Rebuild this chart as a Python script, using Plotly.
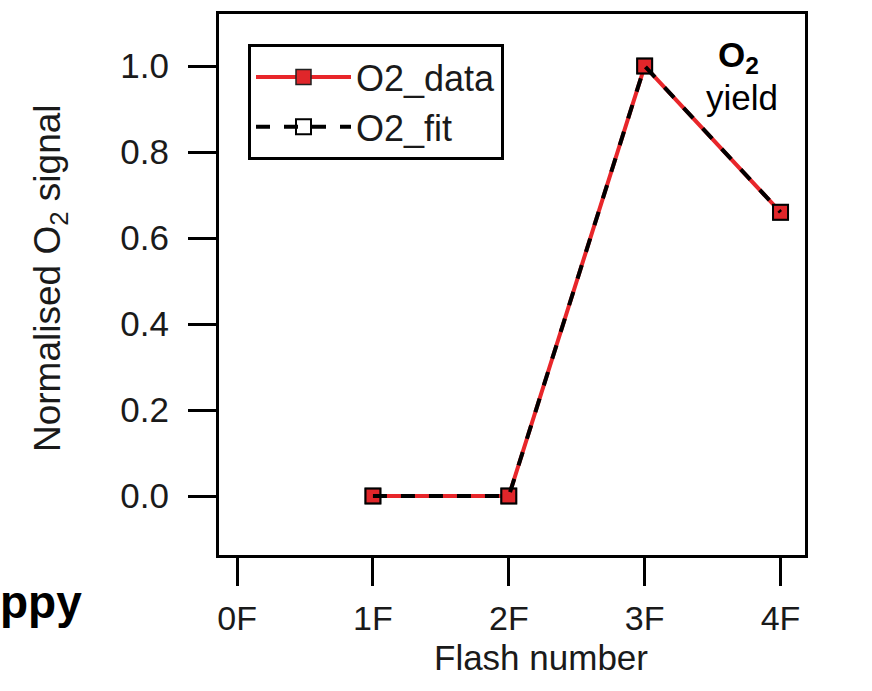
import plotly.graph_objects as go

flash_labels = ["0F", "1F", "2F", "3F", "4F"]
flash_pos = [0, 1, 2, 3, 4]
data_x = [1, 2, 3, 4]
data_y = [0.0, 0.0, 1.0, 0.66]
fit_x = [1, 2, 3, 4]
fit_y = [0.0, 0.0, 1.0, 0.66]
y_ticks = [0.0, 0.2, 0.4, 0.6, 0.8, 1.0]

FONT = "Liberation Sans, Arial, sans-serif"
FS = 35

fig = go.Figure()
fig.add_trace(go.Scatter(
    x=data_x, y=data_y, name="O2_data", mode="lines+markers",
    line=dict(color="#e8262a", width=4),
    marker=dict(symbol="square", size=15, color="#e0262a",
                line=dict(color="#222", width=1.5)),
))
fig.add_trace(go.Scatter(
    x=fit_x, y=fit_y, name="O2_fit", mode="lines+markers",
    line=dict(color="black", width=4, dash="14px,14px"),
    marker=dict(symbol="square-open", size=15, color="black",
                line=dict(width=2)),
))

L, R, T, B = 219, 805, 14, 555
W, H = R - L, B - T

def px_x(x):
    return (x - L) / W

def px_y(y):
    return (B - y) / H

fig.update_layout(
    width=872, height=691,
    margin=dict(l=L, r=872 - R, t=T, b=691 - B),
    paper_bgcolor="white", plot_bgcolor="white",
    font=dict(family=FONT, size=FS, color="#1a1a1a"),
    showlegend=True,
    legend=dict(x=px_x(248), y=px_y(44), xanchor="left", yanchor="top",
                bordercolor="black", borderwidth=3, bgcolor="white",
                font=dict(size=36), tracegroupgap=0, itemwidth=95),
    xaxis=dict(range=[-0.133, 4.18], tickvals=flash_pos, ticktext=flash_labels,
               showgrid=False, zeroline=False, showline=True, linecolor="black",
               linewidth=3, mirror=True, ticks="outside", ticklen=28, tickwidth=3,
               tickcolor="black", tickfont=dict(size=34), ticklabelstandoff=3),
    yaxis=dict(range=[-0.137, 1.121], tickvals=y_ticks, tickformat=".1f",
               showgrid=False, zeroline=False, showline=True, linecolor="black",
               linewidth=3, mirror=True, ticks="outside", ticklen=28, tickwidth=3,
               tickcolor="black", tickfont=dict(size=FS), ticklabelstandoff=12),
    annotations=[
        dict(xref="paper", yref="paper", x=px_x(541), y=px_y(679), xanchor="center",
             yanchor="bottom", showarrow=False,
             text="Flash number", font=dict(size=FS)),
        dict(xref="paper", yref="paper", x=px_x(50), y=px_y(278), xanchor="center",
             yanchor="middle", showarrow=False, textangle=-90,
             text="Normalised O<sub>2</sub> signal", font=dict(size=37)),
        dict(xref="paper", yref="paper", x=px_x(738), y=px_y(57), xanchor="center",
             yanchor="middle", showarrow=False,
             text="<b>O<sub>2</sub></b>", font=dict(size=FS, color="black")),
        dict(xref="paper", yref="paper", x=px_x(742), y=px_y(97), xanchor="center",
             yanchor="middle", showarrow=False,
             text="yield", font=dict(size=FS, color="black")),
        dict(xref="paper", yref="paper", x=px_x(84), y=px_y(602),
             xanchor="right", yanchor="middle", showarrow=False,
             text="<b>ppy</b>", font=dict(size=46, color="black")),
    ],
)

fig.write_html("out.html")
